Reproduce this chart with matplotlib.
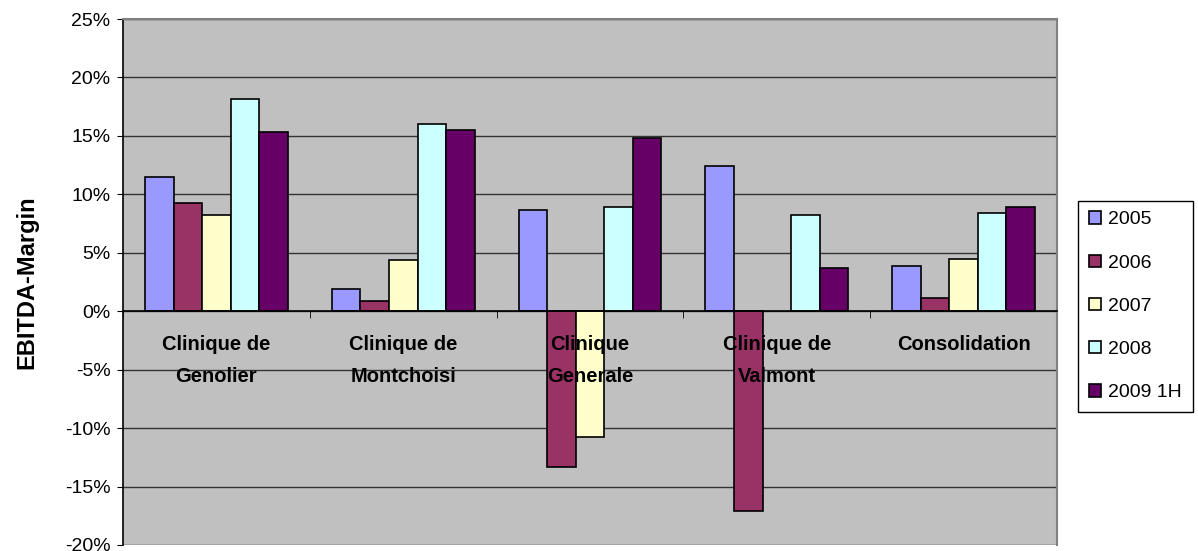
import matplotlib.pyplot as plt
import numpy as np
from matplotlib.ticker import FuncFormatter

# Data (EBITDA margin in %)
categories = ['Clinique de\nGenolier', 'Clinique de\nMontchoisi', 'Clinique\nGenerale',
              'Clinique de\nValmont', 'Consolidation']
series_names = ['2005', '2006', '2007', '2008', '2009 1H']
margin_2005 = [11.5, 1.9, 8.7, 12.4, 3.85]
margin_2006 = [9.25, 0.9, -13.3, -17.1, 1.1]
margin_2007 = [8.2, 4.4, -10.8, np.nan, 4.5]
margin_2008 = [18.15, 16.0, 8.9, 8.2, 8.4]
margin_2009h1 = [15.3, 15.5, 14.8, 3.7, 8.9]
colors = ['#9999FF', '#993366', '#FFFFCC', '#CCFFFF', '#660066']

series = [margin_2005, margin_2006, margin_2007, margin_2008, margin_2009h1]

plt.rcParams['font.family'] = ['Liberation Sans', 'DejaVu Sans']

fig = plt.figure(figsize=(11.98, 5.51), dpi=100)
ax = fig.add_axes([0.1027, 0.0109, 0.7796, 0.9546])
ax.set_facecolor('#C0C0C0')

x = np.arange(len(categories))
width = 0.153
for i, (vals, name, col) in enumerate(zip(series, series_names, colors)):
    ax.bar(x + (i - 2) * width, vals, width, color=col, edgecolor='black',
           linewidth=1.2, label=name, zorder=1)

ax.set_xlim(-0.5, len(categories) - 0.5)
ax.set_ylim(-20, 25)
ax.set_yticks(np.arange(-20, 26, 5))
ax.yaxis.set_major_formatter(FuncFormatter(lambda v, p: '%d%%' % v))

# gridlines below the bars, labels above them
for v in ax.get_yticks():
    ax.axhline(v, color='#333333', linewidth=1.0, zorder=0.5)

# category axis sits at zero, like Excel
ax.spines['bottom'].set_position(('data', 0))
ax.spines['bottom'].set_color('black')
ax.spines['bottom'].set_linewidth(1.2)
ax.spines['left'].set_color('black')
ax.spines['left'].set_linewidth(1.2)
for s in ['top', 'right']:
    ax.spines[s].set_color('#808080')
    ax.spines[s].set_linewidth(1.5)

ax.set_xticks(x)
ax.set_xticklabels(categories, fontsize=14.5, fontweight='bold', linespacing=1.85)
ax.tick_params(axis='x', which='major', length=0, pad=17)
ax.set_xticks(np.arange(-0.5, len(categories), 1.0), minor=True)
ax.tick_params(axis='x', which='minor', length=5, direction='out', color='black')
ax.tick_params(axis='y', length=4, direction='out', labelsize=14, pad=5)

ax.set_ylabel('EBITDA-Margin', fontsize=17, fontweight='bold', labelpad=19)

fig.legend(loc='upper left', bbox_to_anchor=(0.900, 0.636), fontsize=14,
           frameon=True, fancybox=False, edgecolor='black', framealpha=1,
           handlelength=0.6, handleheight=0.6, handletextpad=0.4,
           labelspacing=1.35, borderpad=0.55, borderaxespad=0)

fig.savefig('out.png', dpi=100)
